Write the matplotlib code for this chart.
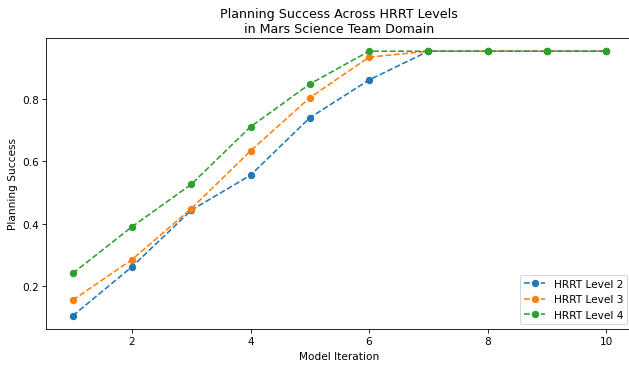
import numpy as np
import matplotlib
matplotlib.use("Agg")
import matplotlib.pyplot as plt

# values
iterations = [1, 2, 3, 4, 5, 6, 7, 8, 9, 10]
level2 = [0.105, 0.262, 0.443, 0.555, 0.739, 0.860, 0.952, 0.952, 0.952, 0.952]
level3 = [0.155, 0.285, 0.448, 0.633, 0.803, 0.933, 0.952, 0.952, 0.952, 0.952]
level4 = [0.241, 0.390, 0.526, 0.710, 0.847, 0.952, 0.952, 0.952, 0.952, 0.952]
labels = ["HRRT Level 2", "HRRT Level 3", "HRRT Level 4"]

dpi = 75.6
W, H = 629, 367
fig = plt.figure(figsize=(W / dpi, H / dpi), dpi=dpi)
# axes spans a bit past the right edge, like the cropped original
ax = fig.add_axes([46.1 / W, 1 - 330 / H, (632.7 - 46.1) / W, (330 - 39) / H])

for vals, name in zip([level2, level3, level4], labels):
    ax.plot(iterations, vals, linestyle='--', marker='o', label=name)

ax.set_title("Planning Success Across HRRT Levels\nin Mars Science Team Domain")
ax.set_xlabel("Model Iteration")
ax.set_ylabel("Planning Success")
ax.legend(loc="lower right")

fig.savefig("out.png", dpi=dpi)
